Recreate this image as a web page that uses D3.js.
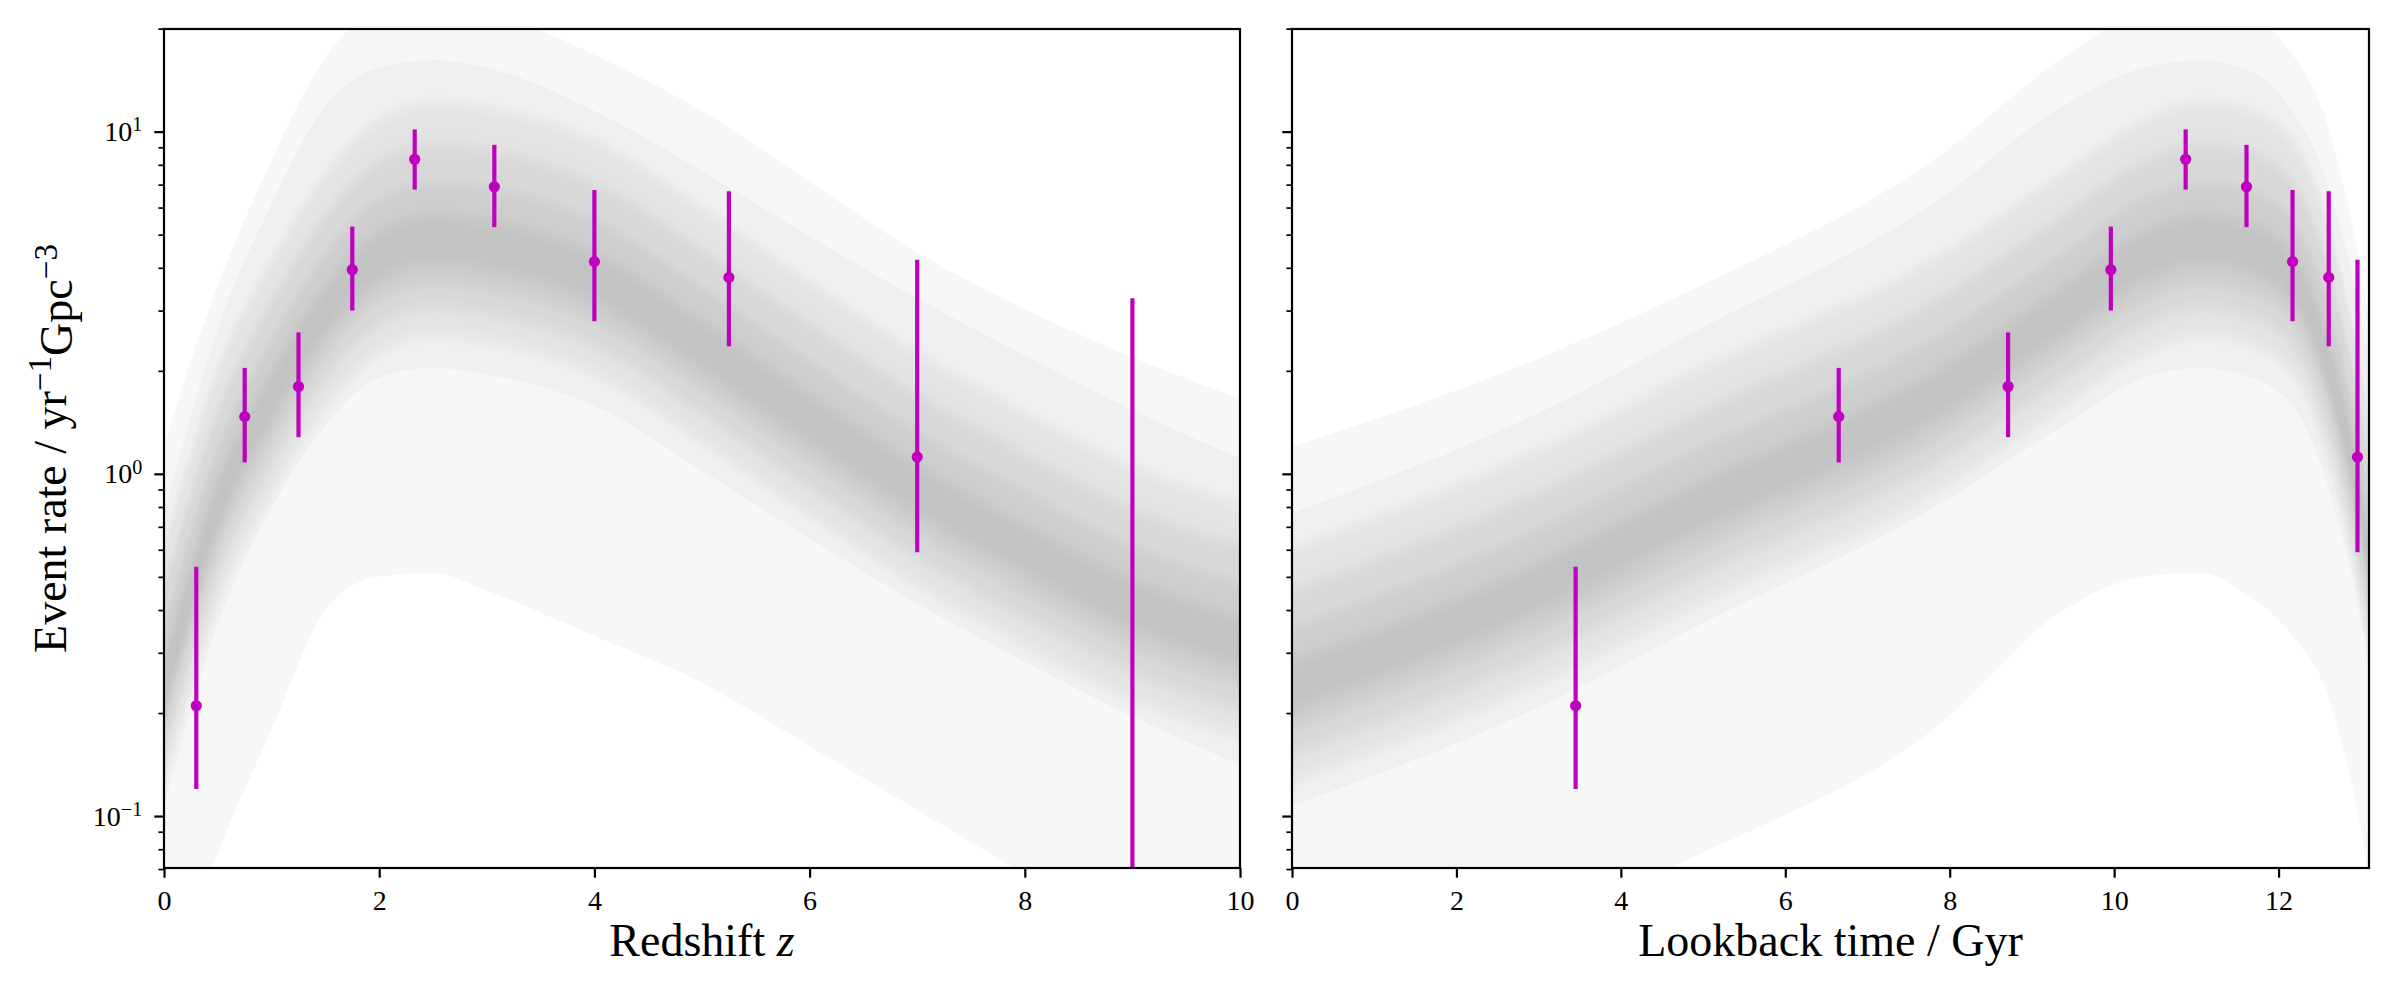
<!DOCTYPE html>
<html>
<head>
<meta charset="utf-8">
<script src="https://d3js.org/d3.v7.min.js"></script>
<style>
  body { margin: 0; background: #fff; }
  svg { display: block; }
  text { font-family: "Liberation Serif", "DejaVu Serif", serif; }
</style>
</head>
<body>
<svg id="chart" width="2400" height="1000"></svg>
<script>
// redshift grid on which the rate bands were read, and matching lookback time (Gyr)
const zGrid = [0, 0.25, 0.5, 1, 1.5, 2, 2.5, 3, 4, 5, 6, 7, 8, 9, 10];
const lookbackGrid = [0, 2.93, 4.97, 7.8, 9.38, 10.36, 11.05, 11.55, 12.17, 12.54, 12.78, 12.96, 13.08, 13.16, 13.23];

// rate bands, outermost first (yr^-1 Gpc^-3)
const outerHi = [1.20, 2.14, 3.55, 8.26, 16.5, 22.9, 25.1, 22.6, 16.8, 11.5, 7.13, 4.44, 3.03, 2.19, 1.66];
const outerLo = [0.0251, 0.0468, 0.0776, 0.179, 0.398, 0.501, 0.513, 0.455, 0.336, 0.245, 0.160, 0.104, 0.0676, 0.0447, 0.0282];
const band1Hi = [0.767, 1.48, 2.66, 6.17, 11.9, 15.4, 16.2, 15.4, 11.5, 7.69, 4.95, 3.26, 2.22, 1.54, 1.11];
const band1Lo = [0.107, 0.204, 0.363, 0.794, 1.38, 1.91, 2.04, 1.95, 1.58, 1.02, 0.646, 0.417, 0.282, 0.195, 0.141];
const band2Hi = [0.603, 1.15, 2.02, 4.22, 7.52, 10.8, 12.1, 11.7, 9.40, 5.96, 3.63, 2.26, 1.51, 1.05, 0.813];
const band2Lo = [0.126, 0.240, 0.422, 0.881, 1.57, 2.26, 2.54, 2.44, 1.96, 1.24, 0.759, 0.472, 0.316, 0.219, 0.170];
const band3Hi = [0.457, 0.871, 1.53, 3.20, 5.70, 8.22, 9.20, 8.85, 7.13, 4.52, 2.75, 1.71, 1.15, 0.794, 0.617];
const band3Lo = [0.151, 0.288, 0.507, 1.06, 1.89, 2.72, 3.05, 2.93, 2.36, 1.50, 0.912, 0.568, 0.380, 0.263, 0.204];
const band4Hi = [0.355, 0.676, 1.19, 2.48, 4.43, 6.38, 7.14, 6.87, 5.53, 3.51, 2.14, 1.33, 0.891, 0.617, 0.479];
const band4Lo = [0.178, 0.339, 0.596, 1.24, 2.22, 3.20, 3.58, 3.44, 2.77, 1.76, 1.07, 0.667, 0.447, 0.309, 0.240];
const band5Hi = [0.282, 0.537, 0.944, 1.97, 3.52, 5.07, 5.68, 5.46, 4.40, 2.79, 1.70, 1.06, 0.708, 0.490, 0.380];
const band5Lo = [0.204, 0.389, 0.684, 1.43, 2.55, 3.67, 4.11, 3.95, 3.18, 2.02, 1.23, 0.766, 0.513, 0.355, 0.275];

// binned measurements
const zBins = [0.3, 0.75, 1.25, 1.75, 2.33, 3.07, 4.0, 5.25, 7.0, 9.0];
const tBins = [3.45, 6.65, 8.71, 9.96, 10.87, 11.61, 12.17, 12.61, 12.96, 13.16];
const rate = [0.21, 1.47, 1.80, 3.95, 8.3, 6.9, 4.17, 3.75, 1.12, 0.04];
const rateLo = [0.12, 1.08, 1.28, 3.0, 6.77, 5.26, 2.79, 2.36, 0.59, 0.005];
const rateHi = [0.535, 2.04, 2.59, 5.28, 10.15, 9.15, 6.75, 6.7, 4.22, 3.26];

const majorY = [0.1, 1, 10];
const minorY = [0.07, 0.08, 0.09, 0.2, 0.3, 0.4, 0.5, 0.6, 0.7, 0.8, 0.9, 2, 3, 4, 5, 6, 7, 8, 9, 20];

const svg = d3.select("#chart");
const yTop = 29, yBottom = 868;
const magenta = "#bf00bf";

const y = d3.scaleLog().domain([0.0705, 19.95]).range([yBottom, yTop]);

// nested bands drawn with stacked transparency; inner ones softened vertically
const bands = [
  { hi: outerHi, lo: outerLo, op: 0.032, soft: false },
  { hi: band1Hi, lo: band1Lo, op: 0.028, soft: false },
  { hi: band2Hi, lo: band2Lo, op: 0.05, soft: true },
  { hi: band3Hi, lo: band3Lo, op: 0.05, soft: true },
  { hi: band4Hi, lo: band4Lo, op: 0.05, soft: true },
  { hi: band5Hi, lo: band5Lo, op: 0.06, soft: true }
];

const defs = svg.append("defs");
defs.append("filter")
  .attr("id", "vblur")
  .attr("filterUnits", "userSpaceOnUse")
  .attr("x", 0).attr("y", -200).attr("width", 2400).attr("height", 1400)
  .append("feGaussianBlur")
  .attr("stdDeviation", "0 8");

const panels = [
  { id: "left", x0: 164, x1: 1240, domain: [0, 10], grid: zGrid, px: zBins,
    ticks: [0, 2, 4, 6, 8, 10], yLabels: true },
  { id: "right", x0: 1292, x1: 2369, domain: [0, 13.1], grid: lookbackGrid, px: tBins,
    ticks: [0, 2, 4, 6, 8, 10, 12], yLabels: false }
];

function superscript(sel, exp) {
  sel.text(null);
  sel.append("tspan").text("10");
  sel.append("tspan").attr("dy", "-0.48em").attr("font-size", "0.72em").text(exp);
}

panels.forEach(p => {
  const x = d3.scaleLinear().domain(p.domain).range([p.x0, p.x1]);
  const g = svg.append("g");

  defs.append("clipPath").attr("id", "clip-" + p.id)
    .append("rect")
    .attr("x", p.x0).attr("y", yTop)
    .attr("width", p.x1 - p.x0).attr("height", yBottom - yTop);

  const plot = g.append("g").attr("clip-path", `url(#clip-${p.id})`);
  const crisp = plot.append("g");
  const soft = plot.append("g").attr("filter", "url(#vblur)");

  // bands
  bands.forEach(b => {
    const area = d3.area()
      .x((d, i) => x(p.grid[i]))
      .y0((d, i) => y(b.lo[i]))
      .y1((d, i) => y(b.hi[i]))
      .curve(d3.curveMonotoneX);
    (b.soft ? soft : crisp).append("path")
      .datum(p.grid)
      .attr("d", area)
      .attr("fill", "#000")
      .attr("fill-opacity", b.op);
  });

  // error bars
  const pts = p.px.map((v, i) => ({ x: v, r: rate[i], lo: rateLo[i], hi: rateHi[i] }));
  const marks = plot.append("g");
  marks.selectAll(".err")
    .data(pts)
    .join("line")
    .attr("class", "err")
    .attr("x1", d => x(d.x)).attr("x2", d => x(d.x))
    .attr("y1", d => y(d.hi)).attr("y2", d => y(d.lo))
    .attr("stroke", magenta)
    .attr("stroke-width", 4.2);
  marks.selectAll(".dot")
    .data(pts)
    .join("circle")
    .attr("class", "dot")
    .attr("cx", d => x(d.x))
    .attr("cy", d => y(d.r))
    .attr("r", 5.6)
    .attr("fill", magenta);

  // x axis
  const xAxis = g.append("g")
    .attr("transform", `translate(0,${yBottom})`)
    .call(d3.axisBottom(x).tickValues(p.ticks).tickSize(9.7).tickPadding(12).tickFormat(d3.format("d")));
  xAxis.select(".domain").remove();
  xAxis.selectAll(".tick line").attr("stroke-width", 2.2);
  xAxis.selectAll("text").attr("font-size", 28).attr("fill", "#000")
    .attr("font-family", "Liberation Serif, serif");

  // y axis, major + minor
  const yAxis = g.append("g")
    .attr("transform", `translate(${p.x0},0)`)
    .call(d3.axisLeft(y).tickValues(majorY).tickSize(9.7).tickPadding(12).tickFormat(() => ""));
  yAxis.select(".domain").remove();
  yAxis.selectAll(".tick line").attr("stroke-width", 2.2);
  if (p.yLabels) {
    yAxis.selectAll(".tick text")
      .attr("font-size", 28).attr("fill", "#000")
      .attr("font-family", "Liberation Serif, serif")
      .each(function (d) { superscript(d3.select(this), String(Math.round(Math.log10(d))).replace("-", "\u2212")); });
  } else {
    yAxis.selectAll(".tick text").remove();
  }

  const yMinor = g.append("g")
    .attr("transform", `translate(${p.x0},0)`)
    .call(d3.axisLeft(y).tickValues(minorY).tickSize(5.6).tickFormat(""));
  yMinor.select(".domain").remove();
  yMinor.selectAll(".tick line").attr("stroke-width", 1.7);

  // frame
  g.append("rect")
    .attr("x", p.x0).attr("y", yTop)
    .attr("width", p.x1 - p.x0).attr("height", yBottom - yTop)
    .attr("fill", "none").attr("stroke", "#000").attr("stroke-width", 2.2);
});

// axis labels
const lx = svg.append("text")
  .attr("x", (164 + 1240) / 2).attr("y", 956)
  .attr("text-anchor", "middle").attr("font-size", 46);
lx.append("tspan").text("Redshift ");
lx.append("tspan").attr("font-style", "italic").text("z");

svg.append("text")
  .attr("x", (1292 + 2369) / 2).attr("y", 956)
  .attr("text-anchor", "middle").attr("font-size", 46)
  .text("Lookback time / Gyr");

const ly = svg.append("text")
  .attr("transform", `translate(66,${(yTop + yBottom) / 2}) rotate(-90)`)
  .attr("text-anchor", "middle").attr("font-size", 46);
ly.append("tspan").text("Event rate / yr");
ly.append("tspan").attr("dy", "-0.45em").attr("font-size", "0.72em").text("\u22121");
ly.append("tspan").attr("dy", "0.45em").text("Gpc");
ly.append("tspan").attr("dy", "-0.45em").attr("font-size", "0.72em").text("\u22123");
</script>
</body>
</html>
